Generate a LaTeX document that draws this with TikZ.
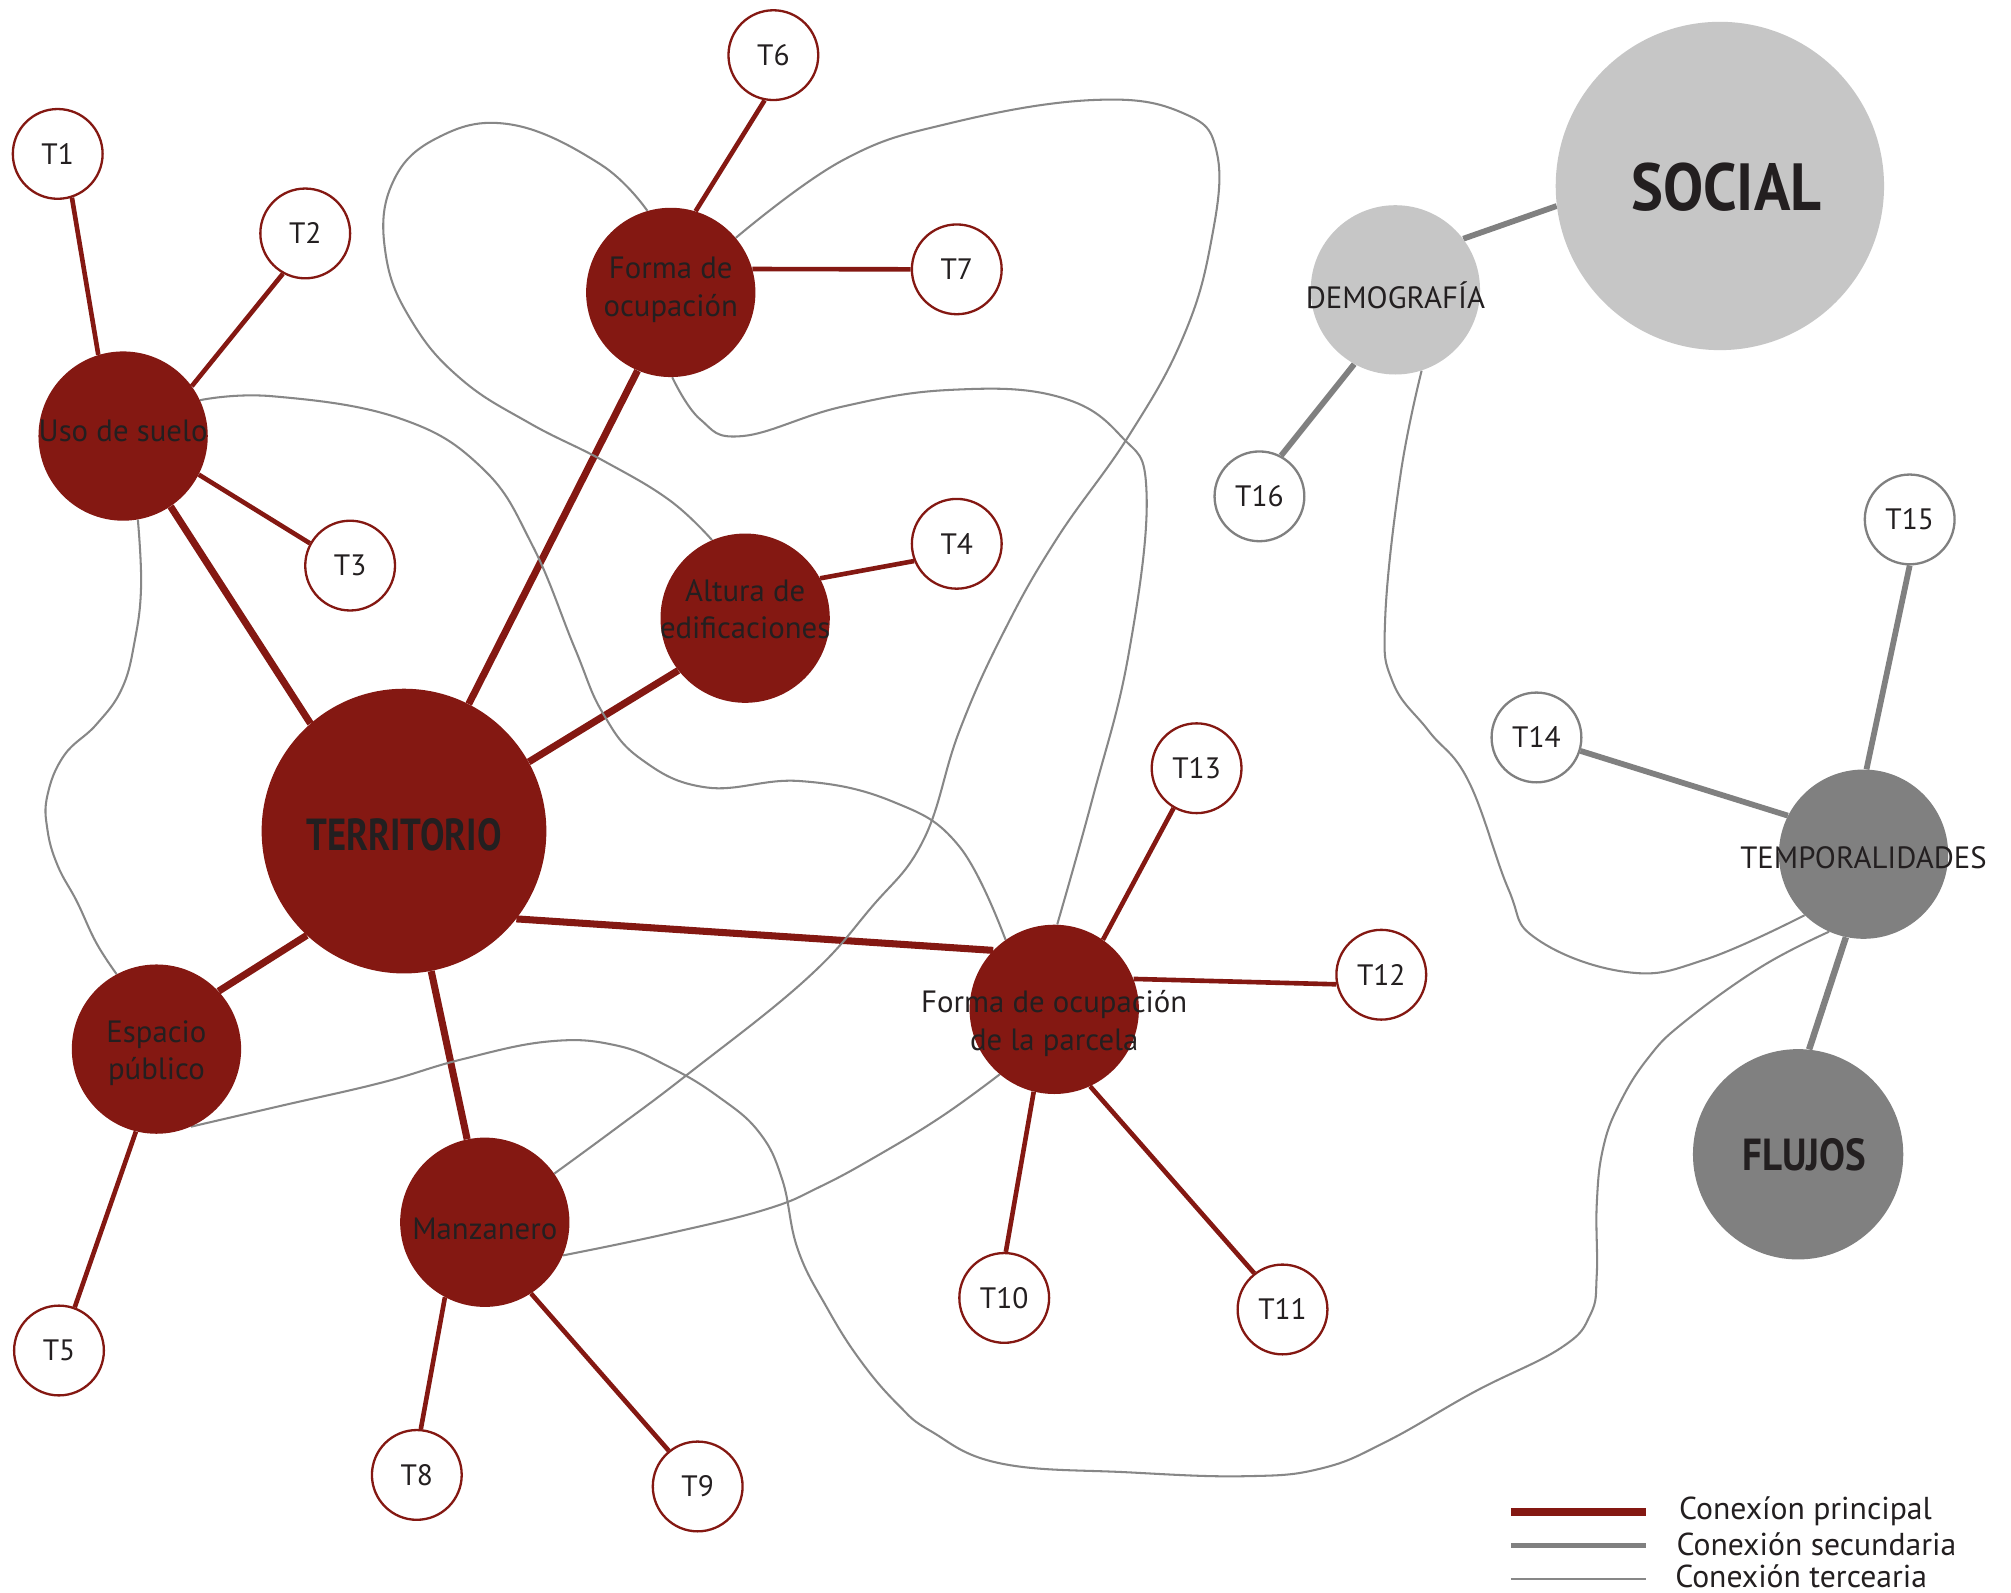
\documentclass[tikz,border=0pt]{standalone}
\usepackage{fontspec}
\setmainfont{PT Sans}
\newfontfamily\condb{PT Sans}[FakeStretch=0.85]
\usetikzlibrary{backgrounds}
\definecolor{tred}{RGB}{132,24,18}
\definecolor{tdark}{RGB}{35,31,32}
\definecolor{lgray}{RGB}{198,198,198}
\definecolor{dgray}{RGB}{128,128,128}
\definecolor{lgline}{RGB}{135,135,135}
\tikzset{
 hub/.style={circle, fill=tred, draw=none, inner sep=0pt, minimum size=132pt},
 ghub/.style={circle, fill=lgray, draw=none, inner sep=0pt, minimum size=132pt},
 dhub/.style={circle, fill=dgray, draw=none, inner sep=0pt, minimum size=132pt},
 tnode/.style={circle, fill=white, draw=tred, line width=1.8pt, inner sep=0pt, minimum size=70pt, text=tdark, font=\fontsize{23}{28}\selectfont},
 gnode/.style={tnode, draw=dgray},
 lbl/.style={text=tdark, align=center, font=\fontsize{24}{29}\selectfont, inner sep=0pt},
 big/.style={text=tdark, inner sep=0pt},
 prim/.style={draw=tred, line width=5.5pt},
 primt/.style={draw=tred, line width=3.6pt},
 sec/.style={draw=dgray, line width=4.5pt},
 ter/.style={draw=lgline, line width=1.6pt},
 leg/.style={text=tdark, anchor=west, font=\fontsize{24.7}{27}\selectfont, inner sep=0pt},
}
\begin{document}
\begin{tikzpicture}[x=1pt,y=-1pt]
\useasboundingbox (0,0) rectangle (1568,1242);
% hubs
\node[hub] (uso) at (96,340) {};
\node[hub] (forma) at (523,228) {};
\node[hub] (altura) at (581,482) {};
\node[hub, minimum size=222pt] (terr) at (315,648) {};
\node[hub] (esp) at (122,818) {};
\node[hub] (manz) at (378,953) {};
\node[hub] (parc) at (822,787) {};
\node[ghub] (demo) at (1088,226) {};
\node[ghub, minimum size=256pt] (social) at (1341,145) {};
\node[dhub] (temp) at (1453,666) {};
\node[dhub, minimum size=164pt] (flujos) at (1402,900) {};
% T nodes
\node[tnode] (t1) at (45,120) {T1};
\node[tnode] (t2) at (238,182) {T2};
\node[tnode] (t3) at (273,441) {T3};
\node[tnode] (t4) at (746,424) {T4};
\node[tnode] (t5) at (46,1053) {T5};
\node[tnode] (t6) at (603,43) {T6};
\node[tnode] (t7) at (746,210) {T7};
\node[tnode] (t8) at (325,1150) {T8};
\node[tnode] (t9) at (544,1159) {T9};
\node[tnode] (t10) at (783,1012) {T10};
\node[tnode] (t11) at (1000,1021) {T11};
\node[tnode] (t12) at (1077,760) {T12};
\node[tnode] (t13) at (933,599) {T13};
\node[gnode] (t14) at (1198,575) {T14};
\node[gnode] (t15) at (1489,405) {T15};
\node[gnode] (t16) at (982,387) {T16};
% labels
\node[lbl] (luso) at (96,336) {Uso de suelo};
\node[lbl] (lforma) at (523,226) {Forma de\\ocupación};
\node[lbl] (laltura) at (581,475) {Altura de\\edificaciones};
\node[lbl] (lesp) at (122,821) {Espacio\\público};
\node[lbl] (lmanz) at (378,958) {Manzanero};
\node[lbl] (lparc) at (822,798) {Forma de ocupación\\de la parcela};
\node[lbl] (ldemo) at (1088,230) {DEMOGRAFÍA};
\node[lbl] (ltemp) at (1453,669) {TEMPORALIDADES};
\node[big, font=\condb\bfseries\fontsize{35}{40}\selectfont, xscale=0.96] (lterr) at (315,651) {TERRITORIO};
\node[big, font=\condb\bfseries\fontsize{35}{40}\selectfont, xscale=1.02] (lflujos) at (1407,900) {FLUJOS};
\node[big, font=\condb\bfseries\fontsize{52}{56}\selectfont, xscale=1.06] (lsocial) at (1346,146) {SOCIAL};
% connectors
\begin{pgfonlayer}{background}
\fill[white] (0,0) rectangle (1568,1242);
\draw[prim] (uso.-56) -- (terr.131);
\draw[prim] (forma.-113) -- (terr.63);
\draw[prim] (altura.-142) -- (terr.29);
\draw[prim] (esp.43) -- (terr.-133);
\draw[prim] (manz.102) -- (terr.-79);
\draw[prim] (terr.-38) -- (parc.136);
\draw[primt] (t1.-72) -- (uso.107);
\draw[primt] (t2.-119) -- (uso.36);
\draw[primt] (t3.151) -- (uso.-27);
\draw[primt] (t6.-101) -- (forma.73);
\draw[primt] (t7.180) -- (forma.16);
\draw[primt] (t4.-158) -- (altura.28);
\draw[primt] (t5.70) -- (esp.-104);
\draw[primt] (t8.85) -- (manz.-118);
\draw[primt] (t9.129) -- (manz.-57);
\draw[primt] (t13.-120) -- (parc.55);
\draw[primt] (t12.-168) -- (parc.21);
\draw[primt] (t10.88) -- (parc.-104);
\draw[primt] (t11.128) -- (parc.-65);
\draw[sec] (social.-173) -- (demo.37);
\draw[sec] (demo.-119) -- (t16.62);
\draw[sec] (t15.-90) -- (temp.88);
\draw[sec] (t14.-17) -- (temp.153);
\draw[sec, line width=5pt] (temp.-102) -- (flujos.84);
% tertiary
\draw[ter] plot[smooth, tension=0.7] coordinates {(forma.106) (468,128) (398,97) (340,108) (305,145) (301,200) (322,252) (360,296) (413,330) (470,359) (522,390) (altura.113)};
\draw[ter] plot[smooth, tension=0.7] coordinates {(forma.40) (657,125) (741,96) (852,78) (922,88) (949,120) (944,190) (922,264) (880,340) (824,420) (783,492) (748,570) (720,655) (679,708) (628,764) (537,837) (480,880) (manz.35)};
\draw[ter] plot[smooth, tension=0.7] coordinates {(forma.-89) (546,327) (579,340) (657,317) (741,304) (824,309) (874,340) (894,385) (880,510) (852,622) (parc.88)};
\draw[ter] plot[smooth, tension=0.7] coordinates {(uso.25) (213,309) (311,326) (376,365) (415,425) (448,505) (470,556) (500,592) (551,614) (624,609) (696,625) (748,660) (parc.125)};
\draw[ter] plot[smooth, tension=0.7] coordinates {(uso.-80) (110,457) (105,500) (95,537) (75,565) (50,589) (37,620) (37,647) (45,675) (60,703) (75,735) (esp.118)};
\draw[ter] plot[smooth, tension=0.7] coordinates {(esp.-66) (220,862) (298,844) (360,826) (428,812) (480,815) (522,832) (560,855) (592,883) (610,920) (622,974) (645,1020) (671,1061) (700,1095) (726,1116) (780,1141) (880,1148) (971,1151) (1030,1145) (1081,1124) (1150,1085) (1217,1051) (1240,1025) (1245,994) (1245,939) (1250,895) (1263,860) (1285,825) (1313,797) (1373,754) (temp.-114)};
\draw[ter] plot[smooth, tension=0.7] coordinates {(manz.-23) (520,962) (597,943) (640,925) (686,900) (735,870) (parc.-130)};
\draw[ter] plot[smooth, tension=0.7] coordinates {(demo.-72) (1092,370) (1080,483) (1086,532) (1114,570) (1145,609) (1176,693) (1198,732) (1269,758) (1330,748) (temp.-134)};
\end{pgfonlayer}
% legend
\coordinate (l1a) at (1178,1179); \coordinate (l1b) at (1283,1179);
\coordinate (l2a) at (1178,1205); \coordinate (l2b) at (1283,1205);
\coordinate (l3a) at (1178,1231); \coordinate (l3b) at (1283,1231);
\draw[prim, line width=6pt] (l1a) -- (l1b);
\draw[sec] (l2a) -- (l2b);
\draw[ter] (l3a) -- (l3b);
\node[leg] (g1) at (1309,1178) {Conexíon principal};
\node[leg] (g2) at (1307,1204) {Conexión secundaria};
\node[leg] (g3) at (1306,1229) {Conexión tercearia};
\end{tikzpicture}
\end{document}
